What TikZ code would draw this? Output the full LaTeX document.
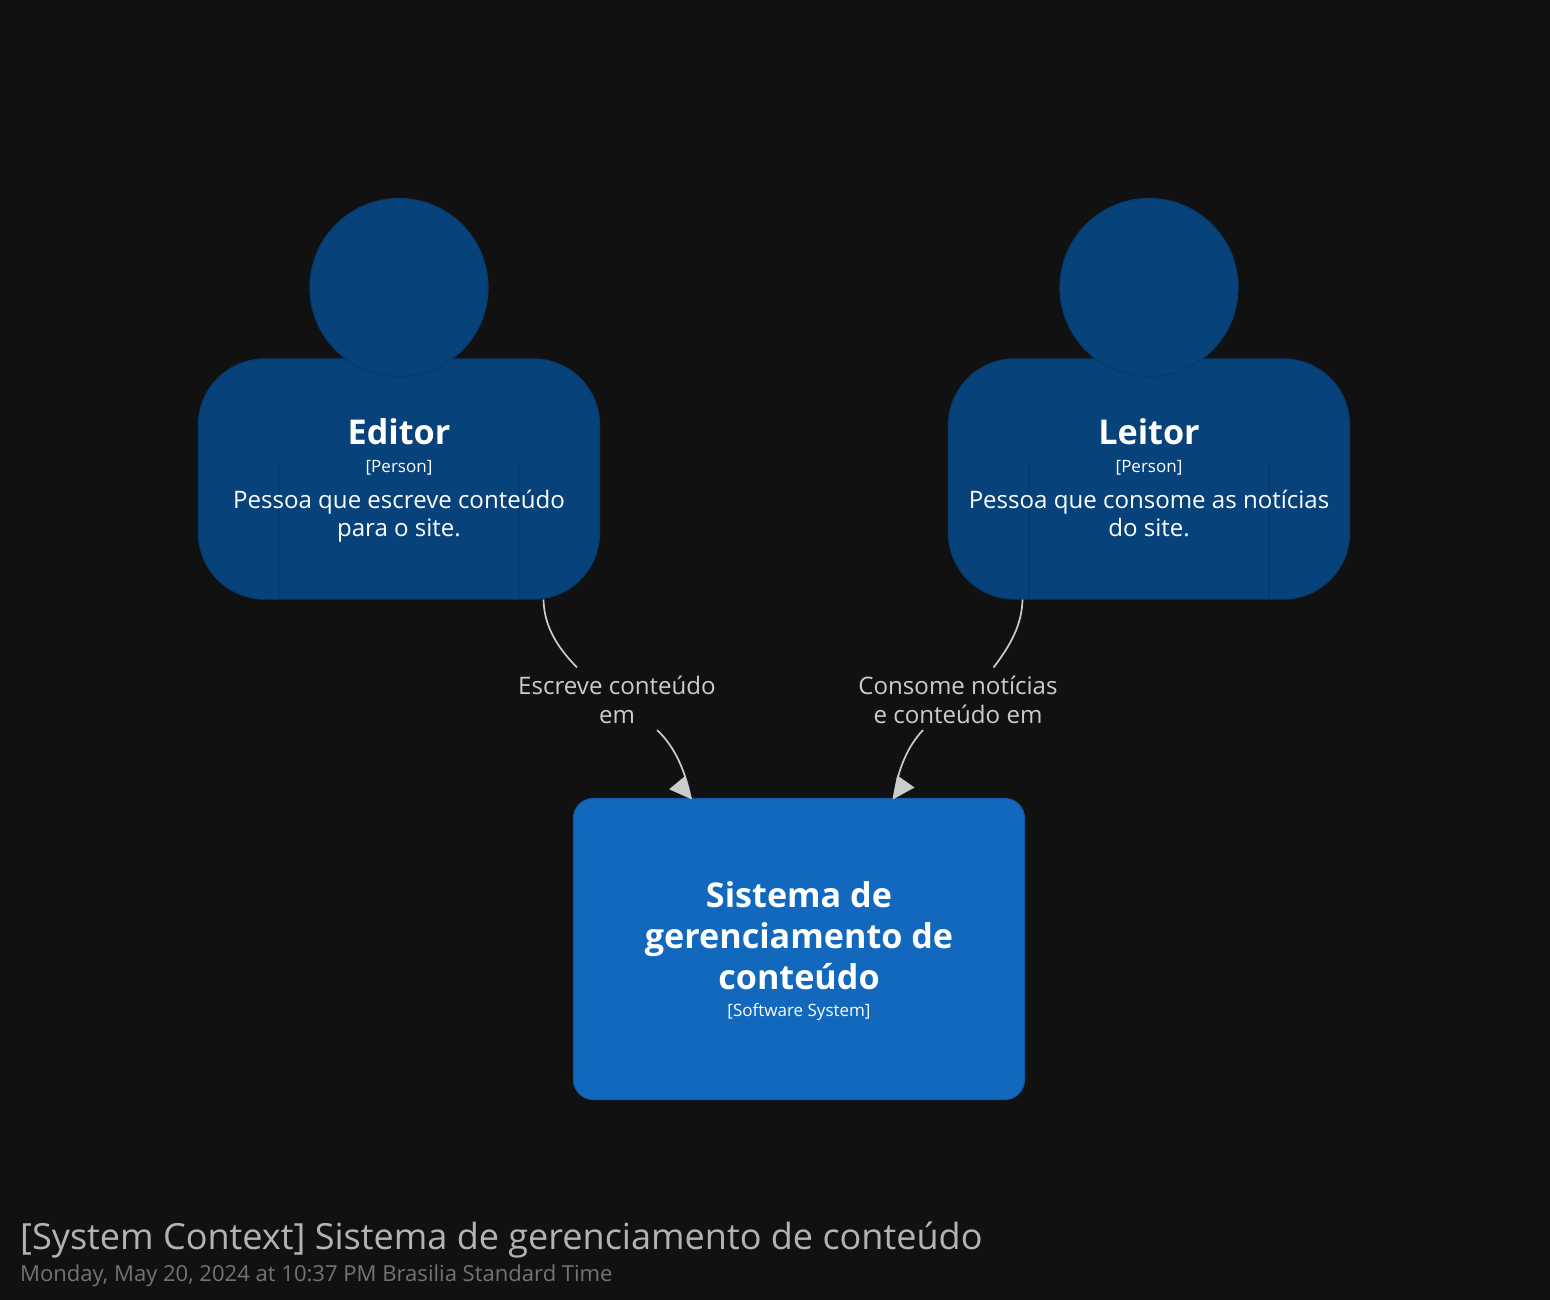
\documentclass[tikz,border=0pt]{standalone}
\usepackage{fontspec}
\setmainfont{Open Sans}
\usetikzlibrary{arrows.meta}
\definecolor{bgc}{HTML}{111111}
\definecolor{personc}{HTML}{08427B}
\definecolor{personl}{HTML}{073B6E}
\definecolor{sysc}{HTML}{1168BD}
\definecolor{sysl}{HTML}{0F5DAA}
\definecolor{linkc}{HTML}{CCCCCC}
\definecolor{titlec}{HTML}{B3B3B3}
\definecolor{subc}{HTML}{737373}
\tikzset{
  x=1pt,y=-1pt,
  personbody/.style={rectangle,rounded corners=66pt,minimum width=401pt,minimum height=240pt,fill=personc,draw=personl,line width=1.2pt,inner sep=0pt},
  personhead/.style={circle,minimum size=178pt,fill=personc,draw=personl,line width=1.2pt,inner sep=0pt},
  armline/.style={draw=personl,line width=1.2pt},
  sysbox/.style={rectangle,rounded corners=20pt,minimum width=451pt,minimum height=301pt,fill=sysc,draw=sysl,line width=1.2pt,inner sep=0pt},
  nametext/.style={text=white,font=\fontsize{34.15}{41}\selectfont\bfseries,align=center,inner sep=0pt},
  tagtext/.style={text=white,font=\fontsize{17}{22}\selectfont,align=center,inner sep=0pt},
  desctext/.style={text=white,font=\fontsize{24.05}{28}\selectfont,align=center,inner sep=0pt},
  linktext/.style={text=linkc,font=\fontsize{24.1}{29}\selectfont,align=center,inner sep=0pt},
  linkline/.style={draw=linkc,line width=1.7pt},
  linktip/.style={draw=linkc,line width=0.1pt,-{Triangle[length=21.4pt,width=21pt,fill=linkc]}},
}
\begin{document}
\begin{tikzpicture}
\useasboundingbox (0,0) rectangle (1550,1300);
\fill[bgc] (0,0) rectangle (1550,1300);

% Editor
\node[personbody] (editor) at (399,479) {};
\node[personhead] (editorhead) at (399,287.5) {};
\draw[armline] (279,465) -- (279,599);
\draw[armline] (519,465) -- (519,599);
\node[nametext] (editorname) at (399,432) {Editor};
\node[tagtext] (editortag) at (399,468) {[Person]};
\node[desctext] (editordesc) at (399,516) {Pessoa que escreve conteúdo\\para o site.};

% Leitor
\node[personbody] (leitor) at (1149,479) {};
\node[personhead] (leitorhead) at (1149,287.5) {};
\draw[armline] (1029,465) -- (1029,599);
\draw[armline] (1269,465) -- (1269,599);
\node[nametext] (leitorname) at (1149,432) {Leitor};
\node[tagtext] (leitortag) at (1149,468) {[Person]};
\node[desctext] (leitordesc) at (1149,513) {Pessoa que consome as notícias\\do site.};

% System
\node[sysbox] (system) at (799,949) {};
\node[nametext] (systemname) at (799,936) {Sistema de\\gerenciamento de\\conteúdo};
\node[tagtext] (systemtag) at (799,1012) {[Software System]};

% Relationship labels
\node[linktext] (linka) at (617,700) {Escreve conteúdo\\em};
\node[linktext] (linkb) at (958,700) {Consome notícias\\e conteúdo em};

% Free ends of the connectors
\coordinate (astart) at (543.5,599.5);
\coordinate (aabove) at (577,667.5);
\coordinate (abelow) at (657,730);
\coordinate (atip)   at (691,799);
\coordinate (abase)  at (677.3,782.5);
\coordinate (bstart) at (1022.5,599.5);
\coordinate (babove) at (993.5,667.5);
\coordinate (bbelow) at (923,730);
\coordinate (btip)   at (893.5,799);
\coordinate (bbase)  at (905.3,782.2);

\draw[linkline] (astart) .. controls (544,625) and (556,646) .. (aabove);
\draw[linkline] (abelow) .. controls (672,744) and (684,765) .. (atip);
\draw[linktip] (abase) -- (atip);
\draw[linkline] (bstart) .. controls (1022,625) and (1010,646) .. (babove);
\draw[linkline] (bbelow) .. controls (908,746) and (898,768) .. (btip);
\draw[linktip] (bbase) -- (btip);

% Title
\node[anchor=base west,inner sep=0pt,text=titlec,font=\fontsize{36.05}{40}\selectfont] (title) at (20,1249) {[System Context] Sistema de gerenciamento de conteúdo};
\node[anchor=base west,inner sep=0pt,text=subc,font=\fontsize{22.05}{26}\selectfont] (subtitle) at (20,1281) {Monday, May 20, 2024 at 10:37 PM Brasilia Standard Time};
\end{tikzpicture}
\end{document}
